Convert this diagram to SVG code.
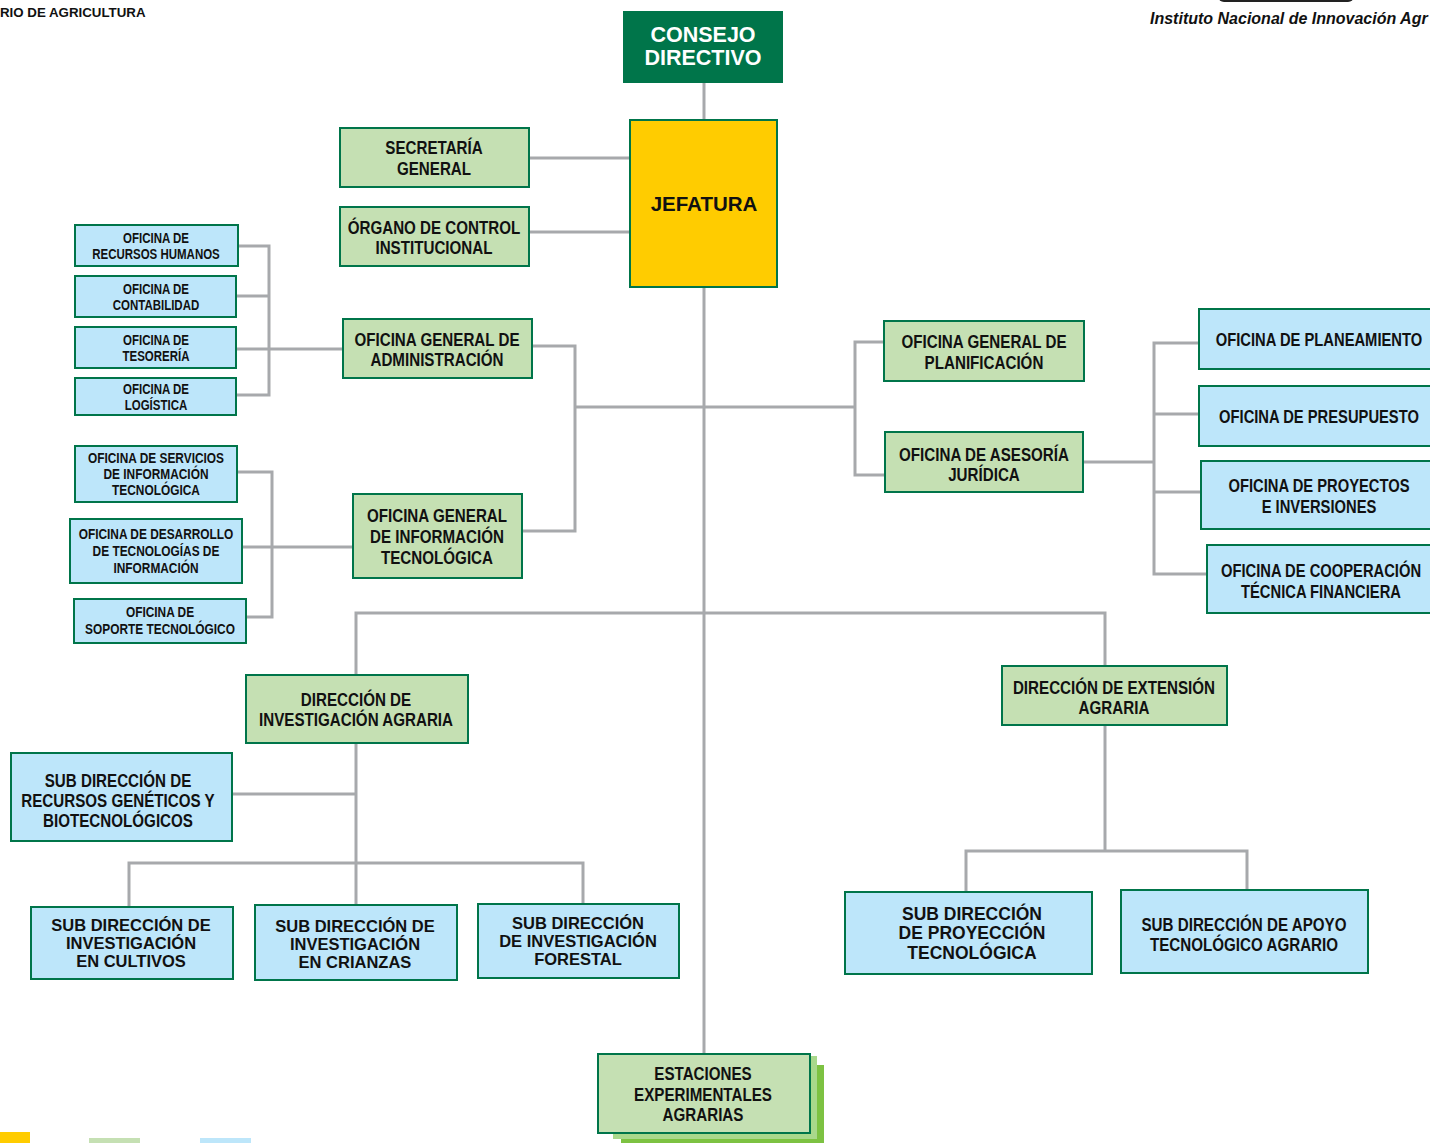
<svg xmlns="http://www.w3.org/2000/svg" width="1430" height="1143" viewBox="0 0 1430 1143">
  <style>
    .g { fill: #C5E0B3; stroke: #00754A; stroke-width: 2; }
    .b { fill: #BDE6FA; stroke: #00754A; stroke-width: 2; }
    .t { font-family: "Liberation Sans", Arial, sans-serif; font-weight: bold; fill: #111; text-anchor: middle; }
    .w { font-family: "Liberation Sans", Arial, sans-serif; font-weight: bold; text-anchor: middle; }
    .f185 { font-size: 18.5px; }
    .f18 { font-size: 18px; }
    .f14 { font-size: 14px; }
    .f145 { font-size: 14.5px; }
    .f165 { font-size: 16.5px; }
    .f175 { font-size: 17.5px; }
    .conn { fill: none; stroke: #A7A9AC; stroke-width: 3; }
  </style>

  <rect width="1430" height="1143" fill="#FFFFFF"/>

  <!-- page header -->
  <g id="header">
    <text x="0" y="17" font-family="Liberation Sans, Arial, sans-serif" font-weight="bold" font-size="13.3px" fill="#111">RIO DE AGRICULTURA</text>
    <text x="1150" y="24" font-family="Liberation Sans, Arial, sans-serif" font-weight="bold" font-style="italic" font-size="16px" fill="#111">Instituto Nacional de Innovación Agr</text>
    <rect x="1218" y="-10" width="136" height="12" rx="6" fill="#222"/>
  </g>

  <!-- connectors -->
  <g id="connectors" class="conn">
    <path d="M704 83 V120"/>
    <path d="M704 287 V1054"/>
    <path d="M529 158 H630"/>
    <path d="M529 232 H630"/>
    <path d="M532 346 H575 V531 H522"/>
    <path d="M575 407 H855"/>
    <path d="M884 342 H855 V475 H885"/>
    <path d="M1083 462 H1154"/>
    <path d="M1199 343 H1154 V574 H1207"/>
    <path d="M1154 414 H1199"/>
    <path d="M1154 492 H1201"/>
    <path d="M238 246 H269 V395 H237"/>
    <path d="M236 296 H269"/>
    <path d="M236 349 H343"/>
    <path d="M237 472 H272 V617 H246"/>
    <path d="M242 547 H353"/>
    <path d="M356 675 V613 H1105 V666"/>
    <path d="M356 743 V905"/>
    <path d="M232 794 H356"/>
    <path d="M129 908 V863 H583 V904"/>
    <path d="M1105 725 V851"/>
    <path d="M966 892 V851 H1247 V890"/>
  </g>

  <!-- top level -->
  <g id="consejo">
    <rect x="623" y="11" width="160" height="72" fill="#00754A"/>
    <text class="w" x="703" y="42" font-size="21.5px" fill="#FFFFFF">CONSEJO</text>
    <text class="w" x="703" y="65" font-size="21.5px" fill="#FFFFFF">DIRECTIVO</text>
  </g>
  <g id="jefatura">
    <rect x="630" y="120" width="147" height="167" fill="#FFCC00" stroke="#00754A" stroke-width="2"/>
    <text class="w" x="704" y="211" font-size="20.5px" fill="#111">JEFATURA</text>
  </g>

  <!-- advisory and support offices (labels narrowed about their centre) -->
  <g id="secretaria">
    <rect class="g" x="340" y="128" width="189" height="59"/>
    <g transform="matrix(0.82 0 0 1 78.12 0)">
      <text class="t f185" x="434" y="154">SECRETARÍA</text>
      <text class="t f185" x="434" y="175">GENERAL</text>
    </g>
  </g>
  <g id="oci">
    <rect class="g" x="340" y="207" width="189" height="59"/>
    <g transform="matrix(0.82 0 0 1 78.12 0)">
      <text class="t f185" x="434" y="234">ÓRGANO DE CONTROL</text>
      <text class="t f185" x="434" y="254">INSTITUCIONAL</text>
    </g>
  </g>
  <g id="oga">
    <rect class="g" x="343" y="319" width="189" height="59"/>
    <g transform="matrix(0.82 0 0 1 78.66 0)">
      <text class="t f185" x="437" y="346">OFICINA GENERAL DE</text>
      <text class="t f185" x="437" y="366">ADMINISTRACIÓN</text>
    </g>
  </g>
  <g id="ogit">
    <rect class="g" x="353" y="494" width="169" height="84"/>
    <g transform="matrix(0.82 0 0 1 78.66 0)">
      <text class="t f185" x="437" y="522">OFICINA GENERAL</text>
      <text class="t f185" x="437" y="543">DE INFORMACIÓN</text>
      <text class="t f185" x="437" y="564">TECNOLÓGICA</text>
    </g>
  </g>
  <g id="ogp">
    <rect class="g" x="884" y="321" width="200" height="60"/>
    <g transform="matrix(0.82 0 0 1 177.12 0)">
      <text class="t f185" x="984" y="348">OFICINA GENERAL DE</text>
      <text class="t f185" x="984" y="369">PLANIFICACIÓN</text>
    </g>
  </g>
  <g id="oaj">
    <rect class="g" x="885" y="432" width="198" height="60"/>
    <g transform="matrix(0.82 0 0 1 177.12 0)">
      <text class="t f185" x="984" y="461">OFICINA DE ASESORÍA</text>
      <text class="t f185" x="984" y="481">JURÍDICA</text>
    </g>
  </g>

  <!-- planning offices -->
  <g id="planeamiento">
    <rect class="b" x="1199" y="309" width="240" height="60"/>
    <g transform="matrix(0.82 0 0 1 237.42 0)">
      <text class="t f18" x="1319" y="346">OFICINA DE PLANEAMIENTO</text>
    </g>
  </g>
  <g id="presupuesto">
    <rect class="b" x="1199" y="386" width="240" height="60"/>
    <g transform="matrix(0.82 0 0 1 237.42 0)">
      <text class="t f18" x="1319" y="423">OFICINA DE PRESUPUESTO</text>
    </g>
  </g>
  <g id="proyectos">
    <rect class="b" x="1201" y="461" width="240" height="68"/>
    <g transform="matrix(0.82 0 0 1 237.42 0)">
      <text class="t f18" x="1319" y="492">OFICINA DE PROYECTOS</text>
      <text class="t f18" x="1319" y="513">E INVERSIONES</text>
    </g>
  </g>
  <g id="cooperacion">
    <rect class="b" x="1207" y="545" width="235" height="68"/>
    <g transform="matrix(0.82 0 0 1 237.78 0)">
      <text class="t f18" x="1321" y="577">OFICINA DE COOPERACIÓN</text>
      <text class="t f18" x="1321" y="598">TÉCNICA FINANCIERA</text>
    </g>
  </g>

  <!-- administration offices -->
  <g id="rrhh">
    <rect class="b" x="75" y="225" width="163" height="41"/>
    <g transform="matrix(0.82 0 0 1 28.08 0)">
      <text class="t f14" x="156" y="243">OFICINA DE</text>
      <text class="t f14" x="156" y="259">RECURSOS HUMANOS</text>
    </g>
  </g>
  <g id="contabilidad">
    <rect class="b" x="75" y="276" width="161" height="41"/>
    <g transform="matrix(0.82 0 0 1 28.08 0)">
      <text class="t f14" x="156" y="294">OFICINA DE</text>
      <text class="t f14" x="156" y="310">CONTABILIDAD</text>
    </g>
  </g>
  <g id="tesoreria">
    <rect class="b" x="75" y="327" width="161" height="41"/>
    <g transform="matrix(0.82 0 0 1 28.08 0)">
      <text class="t f14" x="156" y="345">OFICINA DE</text>
      <text class="t f14" x="156" y="361">TESORERÍA</text>
    </g>
  </g>
  <g id="logistica">
    <rect class="b" x="75" y="378" width="161" height="37"/>
    <g transform="matrix(0.82 0 0 1 28.08 0)">
      <text class="t f14" x="156" y="394">OFICINA DE</text>
      <text class="t f14" x="156" y="410">LOGÍSTICA</text>
    </g>
  </g>

  <!-- information technology offices -->
  <g id="servicios">
    <rect class="b" x="75" y="446" width="162" height="56"/>
    <g transform="matrix(0.82 0 0 1 28.08 0)">
      <text class="t f145" x="156" y="463">OFICINA DE SERVICIOS</text>
      <text class="t f145" x="156" y="479">DE INFORMACIÓN</text>
      <text class="t f145" x="156" y="495">TECNOLÓGICA</text>
    </g>
  </g>
  <g id="desarrollo">
    <rect class="b" x="70" y="519" width="172" height="64"/>
    <g transform="matrix(0.82 0 0 1 28.08 0)">
      <text class="t f145" x="156" y="539">OFICINA DE DESARROLLO</text>
      <text class="t f145" x="156" y="556">DE TECNOLOGÍAS DE</text>
      <text class="t f145" x="156" y="573">INFORMACIÓN</text>
    </g>
  </g>
  <g id="soporte">
    <rect class="b" x="74" y="599" width="172" height="44"/>
    <g transform="matrix(0.82 0 0 1 28.8 0)">
      <text class="t f145" x="160" y="617">OFICINA DE</text>
      <text class="t f145" x="160" y="634">SOPORTE TECNOLÓGICO</text>
    </g>
  </g>

  <!-- research directorate -->
  <g id="dia">
    <rect class="g" x="246" y="675" width="222" height="68"/>
    <g transform="matrix(0.82 0 0 1 64.08 0)">
      <text class="t f185" x="356" y="706">DIRECCIÓN DE</text>
      <text class="t f185" x="356" y="726">INVESTIGACIÓN AGRARIA</text>
    </g>
  </g>
  <g id="sdrg">
    <rect class="b" x="11" y="753" width="221" height="88"/>
    <g transform="matrix(0.82 0 0 1 21.24 0)">
      <text class="t f185" x="118" y="787">SUB DIRECCIÓN DE</text>
      <text class="t f185" x="118" y="807">RECURSOS GENÉTICOS Y</text>
      <text class="t f185" x="118" y="827">BIOTECNOLÓGICOS</text>
    </g>
  </g>
  <g id="cultivos">
    <rect class="b" x="31" y="907" width="202" height="72"/>
    <text class="w f165" x="131" y="931" fill="#111">SUB DIRECCIÓN DE</text>
    <text class="w f165" x="131" y="949" fill="#111">INVESTIGACIÓN</text>
    <text class="w f165" x="131" y="967" fill="#111">EN CULTIVOS</text>
  </g>
  <g id="crianzas">
    <rect class="b" x="255" y="905" width="202" height="75"/>
    <text class="w f165" x="355" y="932" fill="#111">SUB DIRECCIÓN DE</text>
    <text class="w f165" x="355" y="950" fill="#111">INVESTIGACIÓN</text>
    <text class="w f165" x="355" y="968" fill="#111">EN CRIANZAS</text>
  </g>
  <g id="forestal">
    <rect class="b" x="478" y="904" width="201" height="74"/>
    <text class="w f165" x="578" y="929" fill="#111">SUB DIRECCIÓN</text>
    <text class="w f165" x="578" y="947" fill="#111">DE INVESTIGACIÓN</text>
    <text class="w f165" x="578" y="965" fill="#111">FORESTAL</text>
  </g>

  <!-- extension directorate -->
  <g id="dea">
    <rect class="g" x="1002" y="666" width="225" height="59"/>
    <g transform="matrix(0.82 0 0 1 200.52 0)">
      <text class="t f185" x="1114" y="694">DIRECCIÓN DE EXTENSIÓN</text>
      <text class="t f185" x="1114" y="714">AGRARIA</text>
    </g>
  </g>
  <g id="sdpt">
    <rect class="b" x="845" y="892" width="247" height="82"/>
    <text class="w f175" x="972" y="920" fill="#111">SUB DIRECCIÓN</text>
    <text class="w f175" x="972" y="939" fill="#111">DE PROYECCIÓN</text>
    <text class="w f175" x="972" y="959" fill="#111">TECNOLÓGICA</text>
  </g>
  <g id="sdata">
    <rect class="b" x="1121" y="890" width="247" height="83"/>
    <g transform="matrix(0.82 0 0 1 223.92 0)">
      <text class="t f185" x="1244" y="931">SUB DIRECCIÓN DE APOYO</text>
      <text class="t f185" x="1244" y="951">TECNOLÓGICO AGRARIO</text>
    </g>
  </g>

  <!-- experimental stations (stacked) -->
  <g id="estaciones">
    <rect x="621" y="1065" width="203" height="80" fill="#7DC242"/>
    <rect x="613" y="1056" width="204" height="83" fill="#A9D88B"/>
    <rect class="g" x="598" y="1054" width="212" height="79"/>
    <g transform="matrix(0.82 0 0 1 126.54 0)">
      <text class="t f185" x="703" y="1080">ESTACIONES</text>
      <text class="t f185" x="703" y="1101">EXPERIMENTALES</text>
      <text class="t f185" x="703" y="1121">AGRARIAS</text>
    </g>
  </g>

  <!-- colour key -->
  <g id="legend">
    <rect x="0" y="1132" width="30" height="11" fill="#FFCC00"/>
    <rect x="89" y="1138" width="51" height="5" fill="#C5E0B3"/>
    <rect x="200" y="1138" width="51" height="5" fill="#BDE6FA"/>
  </g>
</svg>
